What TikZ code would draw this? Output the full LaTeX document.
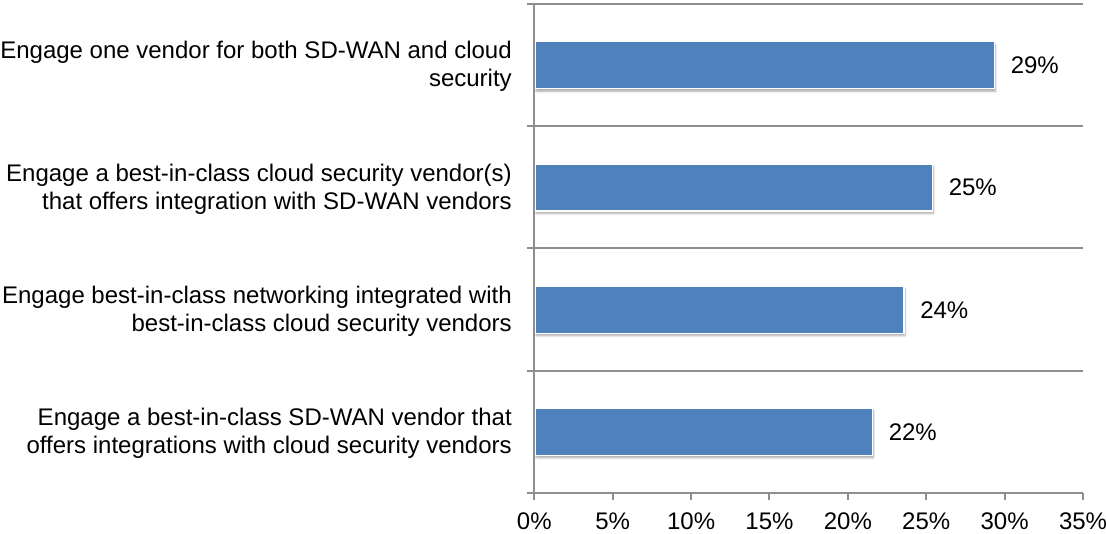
\documentclass[tikz,border=0pt]{standalone}
\usepackage{fontspec}
\setmainfont{Liberation Sans}
\usetikzlibrary{shadows.blur}
\definecolor{barblue}{HTML}{4F81BD}
\definecolor{gridgray}{HTML}{8E8E8E}
\begin{document}
\begin{tikzpicture}[x=0.75pt,y=-0.75pt,
  every node/.style={font=\fontsize{18}{20.8}\selectfont, inner sep=0pt},
  gridline/.style={draw=gridgray, line width=1.5pt},
  barbox/.style={fill=barblue, draw=white, line width=0.8pt,
    blur shadow={shadow xshift=0.8pt, shadow yshift=-1.8pt, shadow opacity=35, shadow blur steps=6, shadow blur radius=1.5pt}},
  catlabel/.style={anchor=east, align=right},
  vallabel/.style={anchor=west},
  ticklabel/.style={anchor=center}]
\useasboundingbox (0,0) rectangle (1106,534);
% gridlines
\foreach \yy in {4,126.2,248.4,370.6}
  \draw[gridline] (527.3,\yy) -- (1083,\yy);
% axis coordinates
\coordinate (o) at (534.3,492.8);
\coordinate (top) at (534.3,4);
\coordinate (xend) at (1083,492.8);
\coordinate (xstart) at (527.3,492.8);
% bars
\coordinate (b1s) at (535,41.8);  \coordinate (b1e) at (994.3,88.8);
\coordinate (b2s) at (535,164);   \coordinate (b2e) at (932.3,211);
\coordinate (b3s) at (535,286.2); \coordinate (b3e) at (904,333.2);
\coordinate (b4s) at (535,408.4); \coordinate (b4e) at (872.4,455.4);
\path[barbox] (b1s) rectangle (b1e);
\path[barbox] (b2s) rectangle (b2e);
\path[barbox] (b3s) rectangle (b3e);
\path[barbox] (b4s) rectangle (b4e);
% axes
\draw[gridline] (xstart) -- (xend);
\draw[gridline] (top) -- (534.3,499.5);
\foreach \i in {1,...,7}
  \draw[gridline] (534.3+78.39*\i,492.8) -- (534.3+78.39*\i,499.5);
% value labels
\node[vallabel] (v1) at (1010.5,65.3) {29\%};
\node[vallabel] (v2) at (948.5,187.5) {25\%};
\node[vallabel] (v3) at (920,309.7) {24\%};
\node[vallabel] (v4) at (888.5,431.9) {22\%};
% category labels
\node[catlabel] (c1) at (512,66) {Engage one vendor for both SD-WAN and cloud\\security};
\node[catlabel] (c2) at (512,189.5) {Engage a best-in-class cloud security vendor(s)\\that offers integration with SD-WAN vendors};
\node[catlabel] (c3) at (512,311.5) {Engage best-in-class networking integrated with\\best-in-class cloud security vendors};
\node[catlabel] (c4) at (512,433.5) {Engage a best-in-class SD-WAN vendor that\\offers integrations with cloud security vendors};
% tick labels
\foreach \v [count=\i from 0] in {0,5,10,15,20,25,30,35}
  \node[ticklabel] (t\i) at (534.3+78.39*\i,521.7) {\v\%};
\end{tikzpicture}
\end{document}
